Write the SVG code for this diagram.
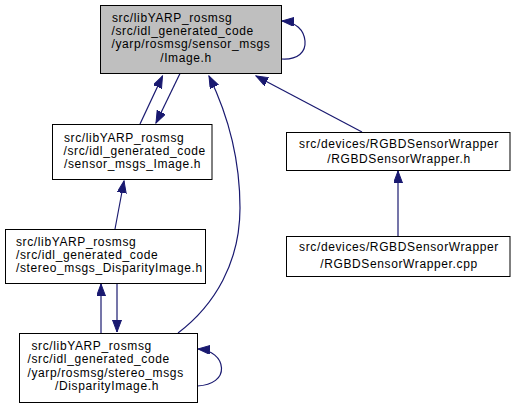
<svg xmlns="http://www.w3.org/2000/svg" width="515" height="408" viewBox="0 0 515 408">
<style>
.box{fill:#ffffff;stroke:#000000;stroke-width:1}
.root{fill:#bfbfbf}
text{font-family:"Liberation Sans",Arial,sans-serif;font-size:12px;letter-spacing:0.62px;fill:#000000}
.c{text-anchor:middle}
.e{fill:none;stroke:#191970;stroke-width:1.2;marker-end:url(#ah)}
</style>
<defs>
<marker id="ah" markerUnits="userSpaceOnUse" markerWidth="13" markerHeight="10" refX="12" refY="4.5" orient="auto">
<path d="M0,0 L12,4.5 L0,9 z" fill="#191970" stroke="#191970" stroke-width="1"/>
</marker>
</defs>
<rect width="515" height="408" fill="#ffffff"/>
<g id="edges">
<path class="e" d="M140,124 L162.5,76"/>
<path class="e" d="M180,73.5 L156,123"/>
<path class="e" d="M115,229 L124,181"/>
<path class="e" d="M101,333 L101,284"/>
<path class="e" d="M117,283.5 L117,332"/>
<path class="e" d="M178,333 C215,305 240,262 240,208 C240,160 228,115 209,76"/>
<path class="e" d="M362,132 L256,76"/>
<path class="e" d="M398,236 L398,171"/>
<path class="e" d="M281.5,59 C298,60 306,52 305,41 C304,30 296,22 282,21"/>
<path class="e" d="M197.5,386 C213,385 222,378 221.5,368 C221,358 212,350 198,349"/>
</g>
<g id="node1">
<rect class="box root" x="100.5" y="5.5" width="181" height="68"/>
<text x="112" y="21.7">src/libYARP_rosmsg</text>
<text x="111.5" y="35">/src/idl_generated_code</text>
<text x="111.5" y="48.3">/yarp/rosmsg/sensor_msgs</text>
<text class="c" x="186" y="61.7">/Image.h</text>
</g>
<g id="node2">
<rect class="box" x="52.5" y="124.5" width="159.5" height="55"/>
<text x="64" y="141.5">src/libYARP_rosmsg</text>
<text x="63.5" y="155">/src/idl_generated_code</text>
<text x="64" y="168.3">/sensor_msgs_Image.h</text>
</g>
<g id="node3">
<rect class="box" x="5.5" y="229.5" width="200" height="54"/>
<text x="16" y="245.7">src/libYARP_rosmsg</text>
<text x="16" y="259">/src/idl_generated_code</text>
<text x="16" y="272.3">/stereo_msgs_DisparityImage.h</text>
</g>
<g id="node4">
<rect class="box" x="19.5" y="333.5" width="178" height="69"/>
<text x="31.5" y="350">src/libYARP_rosmsg</text>
<text x="27.5" y="363.3">/src/idl_generated_code</text>
<text x="27.5" y="376.7">/yarp/rosmsg/stereo_msgs</text>
<text class="c" x="107" y="390">/DisparityImage.h</text>
</g>
<g id="node5">
<rect class="box" x="286.5" y="132.5" width="223.5" height="38"/>
<text class="c" x="399" y="147.7">src/devices/RGBDSensorWrapper</text>
<text class="c" x="399" y="163.3">/RGBDSensorWrapper.h</text>
</g>
<g id="node6">
<rect class="box" x="286.5" y="236.5" width="223.5" height="40"/>
<text class="c" x="399" y="251">src/devices/RGBDSensorWrapper</text>
<text class="c" x="399" y="267.5">/RGBDSensorWrapper.cpp</text>
</g>
</svg>
